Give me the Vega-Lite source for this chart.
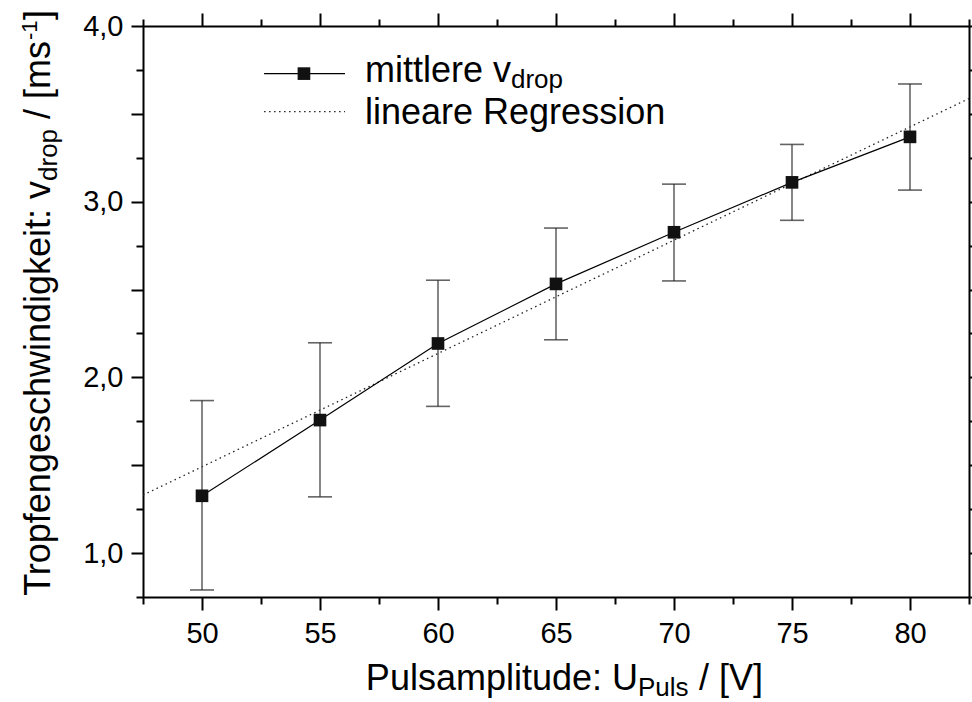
{
  "$schema": "https://vega.github.io/schema/vega-lite/v6.json",
  "width": 826,
  "height": 571,
  "autosize": {"type": "none"},
  "padding": {"left": 143, "top": 26, "right": 3, "bottom": 105},
  "background": "white",
  "config": {"view": {"stroke": null}, "font": "Liberation Sans"},
  "datasets": {
    "points": [
      {"U": 50, "v": 1.326, "lo": 0.79, "hi": 1.868},
      {"U": 55, "v": 1.757, "lo": 1.32, "hi": 2.197},
      {"U": 60, "v": 2.193, "lo": 1.835, "hi": 2.553},
      {"U": 65, "v": 2.532, "lo": 2.214, "hi": 2.85},
      {"U": 70, "v": 2.826, "lo": 2.549, "hi": 3.1},
      {"U": 75, "v": 3.11, "lo": 2.894, "hi": 3.326},
      {"U": 80, "v": 3.369, "lo": 3.066, "hi": 3.67}
    ],
    "fit": [
      {"U": 47.5, "v": 1.33},
      {"U": 82.5, "v": 3.587}
    ]
  },
  "resolve": {"axis": {"x": "independent", "y": "independent"}},
  "layer": [
    {
      "data": {"name": "fit"},
      "mark": {"type": "line", "strokeDash": [1.5, 3.5], "strokeWidth": 1.3, "color": "#222", "clip": true},
      "encoding": {
        "x": {
          "field": "U", "type": "quantitative",
          "scale": {"domain": [47.5, 82.5], "nice": false, "zero": false},
          "axis": {
            "orient": "bottom", "title": null, "grid": false,
            "values": [47.5, 50, 52.5, 55, 57.5, 60, 62.5, 65, 67.5, 70, 72.5, 75, 77.5, 80, 82.5],
            "tickSize": {"condition": {"test": "datum.value % 5 === 0", "value": 13}, "value": 7},
            "tickWidth": 2, "tickColor": "black", "domainColor": "black", "domainWidth": 2,
            "labelExpr": "datum.value % 5 === 0 ? format(datum.value, 'd') : ''",
            "labelFont": "Liberation Sans", "labelFontSize": 29, "labelColor": "black",
            "labelPadding": 9, "labelFlush": false, "labelOverlap": false
          }
        },
        "y": {
          "field": "v", "type": "quantitative",
          "scale": {"domain": [0.75, 4], "nice": false, "zero": false},
          "axis": {
            "orient": "left", "title": null, "grid": false,
            "values": [0.75, 1, 1.25, 1.5, 1.75, 2, 2.25, 2.5, 2.75, 3, 3.25, 3.5, 3.75, 4],
            "tickSize": {"condition": {"test": "(datum.value * 2) % 1 === 0", "value": 12}, "value": 7},
            "tickWidth": 2, "tickColor": "black", "domainColor": "black", "domainWidth": 2,
            "labelExpr": "datum.value % 1 === 0 ? replace(format(datum.value, '.1f'), '.', ',') : ''",
            "labelFont": "Liberation Sans", "labelFontSize": 29, "labelColor": "black",
            "labelPadding": 8, "labelFlush": false, "labelOverlap": false
          }
        }
      }
    },
    {
      "data": {"name": "points"},
      "mark": {"type": "rule", "color": "#444", "strokeWidth": 1.3},
      "encoding": {
        "x": {
          "field": "U", "type": "quantitative",
          "axis": {
            "orient": "top", "title": null, "grid": false, "labels": false,
            "values": [47.5, 50, 52.5, 55, 57.5, 60, 62.5, 65, 67.5, 70, 72.5, 75, 77.5, 80, 82.5],
            "tickSize": {"condition": {"test": "datum.value % 5 === 0", "value": 13}, "value": 7},
            "tickWidth": 2, "tickColor": "black", "domainColor": "black", "domainWidth": 2
          }
        },
        "y": {
          "field": "lo", "type": "quantitative",
          "axis": {
            "orient": "right", "title": null, "grid": false, "labels": false,
            "values": [0.75, 1, 1.25, 1.5, 1.75, 2, 2.25, 2.5, 2.75, 3, 3.25, 3.5, 3.75, 4],
            "tickSize": {"condition": {"test": "(datum.value * 2) % 1 === 0", "value": 12}, "value": 7},
            "tickWidth": 2, "tickColor": "black", "domainColor": "black", "domainWidth": 2
          }
        },
        "y2": {"field": "hi"}
      }
    },
    {
      "data": {"name": "points"},
      "mark": {"type": "tick", "orient": "horizontal", "size": 24, "thickness": 1.6, "color": "#222"},
      "encoding": {
        "x": {"field": "U", "type": "quantitative", "axis": null},
        "y": {"field": "lo", "type": "quantitative", "axis": null}
      }
    },
    {
      "data": {"name": "points"},
      "mark": {"type": "tick", "orient": "horizontal", "size": 24, "thickness": 1.6, "color": "#222"},
      "encoding": {
        "x": {"field": "U", "type": "quantitative", "axis": null},
        "y": {"field": "hi", "type": "quantitative", "axis": null}
      }
    },
    {
      "data": {"name": "points"},
      "mark": {"type": "line", "color": "black", "strokeWidth": 1.2},
      "encoding": {
        "x": {"field": "U", "type": "quantitative", "axis": null},
        "y": {"field": "v", "type": "quantitative", "axis": null}
      }
    },
    {
      "data": {"name": "points"},
      "mark": {"type": "point", "shape": "square", "filled": true, "size": 160, "color": "#111", "opacity": 1},
      "encoding": {
        "x": {"field": "U", "type": "quantitative", "axis": null},
        "y": {"field": "v", "type": "quantitative", "axis": null}
      }
    },
    {
      "data": {"values": [{}]},
      "mark": {"type": "rule", "color": "black", "strokeWidth": 1.2},
      "encoding": {
        "x": {"datum": 52.63, "type": "quantitative", "axis": null},
        "x2": {"datum": 56.06},
        "y": {"datum": 3.729, "type": "quantitative", "axis": null}
      }
    },
    {
      "data": {"values": [{}]},
      "mark": {"type": "point", "shape": "square", "filled": true, "size": 160, "color": "#111", "opacity": 1},
      "encoding": {
        "x": {"datum": 54.32, "type": "quantitative", "axis": null},
        "y": {"datum": 3.729, "type": "quantitative", "axis": null}
      }
    },
    {
      "data": {"values": [{}]},
      "mark": {"type": "rule", "color": "#222", "strokeWidth": 1.3, "strokeDash": [1.5, 3.5]},
      "encoding": {
        "x": {"datum": 52.63, "type": "quantitative", "axis": null},
        "x2": {"datum": 56.06},
        "y": {"datum": 3.513, "type": "quantitative", "axis": null}
      }
    },
    {
      "data": {"values": [{}]},
      "mark": {"type": "text", "text": "mittlere v", "align": "left", "baseline": "alphabetic", "fontSize": 36, "font": "Liberation Sans", "color": "black"},
      "encoding": {
        "x": {"datum": 56.907, "type": "quantitative", "axis": null},
        "y": {"datum": 3.682, "type": "quantitative", "axis": null}
      }
    },
    {
      "data": {"values": [{}]},
      "mark": {"type": "text", "text": "drop", "align": "left", "baseline": "alphabetic", "fontSize": 26, "dx": 146, "dy": 6, "font": "Liberation Sans", "color": "black"},
      "encoding": {
        "x": {"datum": 56.907, "type": "quantitative", "axis": null},
        "y": {"datum": 3.682, "type": "quantitative", "axis": null}
      }
    },
    {
      "data": {"values": [{}]},
      "mark": {"type": "text", "text": "lineare Regression", "align": "left", "baseline": "alphabetic", "fontSize": 36, "font": "Liberation Sans", "color": "black"},
      "encoding": {
        "x": {"datum": 56.907, "type": "quantitative", "axis": null},
        "y": {"datum": 3.443, "type": "quantitative", "axis": null}
      }
    },
    {
      "data": {"values": [{}]},
      "mark": {"type": "text", "text": "Tropfengeschwindigkeit: v", "angle": 270, "align": "right", "baseline": "alphabetic", "fontSize": 36, "font": "Liberation Sans", "color": "black"},
      "encoding": {
        "x": {"datum": 43.56, "type": "quantitative", "axis": null},
        "y": {"datum": 3.118, "type": "quantitative", "axis": null}
      }
    },
    {
      "data": {"values": [{}]},
      "mark": {"type": "text", "text": "drop", "angle": 270, "align": "left", "baseline": "alphabetic", "fontSize": 26, "dy": 7, "font": "Liberation Sans", "color": "black"},
      "encoding": {
        "x": {"datum": 43.56, "type": "quantitative", "axis": null},
        "y": {"datum": 3.118, "type": "quantitative", "axis": null}
      }
    },
    {
      "data": {"values": [{}]},
      "mark": {"type": "text", "text": "/\u00a0[ms", "angle": 270, "align": "left", "baseline": "alphabetic", "fontSize": 36, "dx": 62, "font": "Liberation Sans", "color": "black"},
      "encoding": {
        "x": {"datum": 43.56, "type": "quantitative", "axis": null},
        "y": {"datum": 3.118, "type": "quantitative", "axis": null}
      }
    },
    {
      "data": {"values": [{}]},
      "mark": {"type": "text", "text": "-1", "angle": 270, "align": "left", "baseline": "alphabetic", "fontSize": 22, "dx": 141, "dy": -13, "font": "Liberation Sans", "color": "black"},
      "encoding": {
        "x": {"datum": 43.56, "type": "quantitative", "axis": null},
        "y": {"datum": 3.118, "type": "quantitative", "axis": null}
      }
    },
    {
      "data": {"values": [{}]},
      "mark": {"type": "text", "text": "]", "angle": 270, "align": "left", "baseline": "alphabetic", "fontSize": 36, "dx": 161, "font": "Liberation Sans", "color": "black"},
      "encoding": {
        "x": {"datum": 43.56, "type": "quantitative", "axis": null},
        "y": {"datum": 3.118, "type": "quantitative", "axis": null}
      }
    },
    {
      "data": {"values": [{}]},
      "mark": {"type": "text", "text": "Pulsamplitude: U", "align": "right", "baseline": "alphabetic", "fontSize": 36, "font": "Liberation Sans", "color": "black"},
      "encoding": {
        "x": {"datum": 68.475, "type": "quantitative", "axis": null},
        "y": {"datum": 0.222, "type": "quantitative", "axis": null}
      }
    },
    {
      "data": {"values": [{}]},
      "mark": {"type": "text", "text": "Puls", "align": "left", "baseline": "alphabetic", "fontSize": 26, "dy": 6, "font": "Liberation Sans", "color": "black"},
      "encoding": {
        "x": {"datum": 68.475, "type": "quantitative", "axis": null},
        "y": {"datum": 0.222, "type": "quantitative", "axis": null}
      }
    },
    {
      "data": {"values": [{}]},
      "mark": {"type": "text", "text": "/\u00a0[V]", "align": "left", "baseline": "alphabetic", "fontSize": 36, "dx": 61, "font": "Liberation Sans", "color": "black"},
      "encoding": {
        "x": {"datum": 68.475, "type": "quantitative", "axis": null},
        "y": {"datum": 0.222, "type": "quantitative", "axis": null}
      }
    }
  ]
}
